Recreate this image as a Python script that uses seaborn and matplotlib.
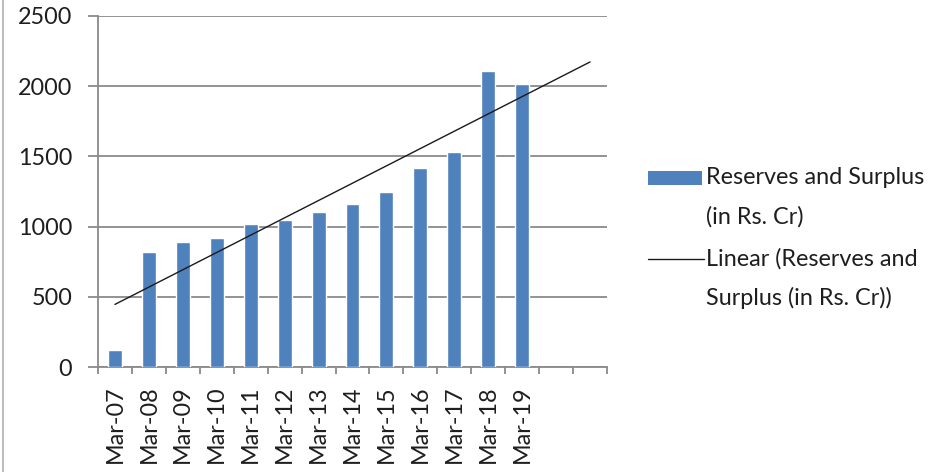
import numpy as np
import pandas as pd
import seaborn as sns
import matplotlib.pyplot as plt
from matplotlib.lines import Line2D
from matplotlib.patches import Rectangle

# Reserves and Surplus (in Rs. Cr), year ending March
periods = ["Mar-07", "Mar-08", "Mar-09", "Mar-10", "Mar-11", "Mar-12", "Mar-13",
           "Mar-14", "Mar-15", "Mar-16", "Mar-17", "Mar-18", "Mar-19"]
reserves = [121, 821, 890, 919, 1021, 1050, 1107, 1164, 1248, 1419, 1533, 2105, 2019]
forecast_periods = 2  # trendline projected two periods ahead
yticks = [0, 500, 1000, 1500, 2000, 2500]

bar_label = "Reserves and Surplus\n(in Rs. Cr)"
trend_label = "Linear (Reserves and\nSurplus (in Rs. Cr))"

BLUE = "#4F81BD"
GRID = "#8a8a8a"
TEXT = "#1e1e1e"
FS = 16.8

sns.set_theme(style="white")
plt.rcParams["font.family"] = ["Lato", "DejaVu Sans"]

df = pd.DataFrame({"period": periods, "value": reserves})

fig = plt.figure(figsize=(9.35, 4.72), dpi=100)
ax = fig.add_axes([98 / 935, 1 - 367 / 472, (607 - 98) / 935, (367 - 16) / 472])

sns.barplot(data=df, x="period", y="value", color=BLUE, saturation=1,
            width=0.41, ax=ax, zorder=3)

# least-squares trendline, extended forward
idx = np.arange(len(reserves))
slope, intercept = np.polyfit(idx, reserves, 1)
tx = np.array([0, len(reserves) - 1 + forecast_periods])
ax.plot(tx, slope * tx + intercept, color="#1a1a1a", lw=1.0, zorder=4)

n_slots = len(reserves) + forecast_periods
ax.set_xlim(-0.5, n_slots - 0.5)
ax.set_ylim(0, 2500)
ax.set_yticks(yticks)
ax.set_yticklabels([str(v) for v in yticks], fontsize=FS, color=TEXT)
ax.yaxis.grid(True, color=GRID, lw=1.3, zorder=0)
ax.set_axisbelow(True)

ax.set_xticks(idx)
ax.set_xticklabels(periods, rotation=90, fontsize=FS, color=TEXT)
ax.set_xticks(np.arange(n_slots + 1) - 0.5, minor=True)
ax.tick_params(axis="x", which="major", length=0, pad=13)
ax.tick_params(axis="x", which="minor", length=5, width=1.3, color=GRID, direction="out", bottom=True)
ax.tick_params(axis="y", which="major", length=7.5, width=1.3, color=GRID, direction="out", left=True, pad=11)

ax.set_xlabel("")
ax.set_ylabel("")
for side in ["top", "right"]:
    ax.spines[side].set_visible(False)
for side in ["left", "bottom"]:
    ax.spines[side].set_color(GRID)
    ax.spines[side].set_linewidth(1.3)

# legend to the right of the plot
W, H = 935, 472
def fx(px):
    return px / W
def fy(py):
    return 1 - py / H

fig.add_artist(Rectangle((fx(648), fy(185)), fx(702) - fx(648), fy(171) - fy(185),
                         transform=fig.transFigure, color=BLUE, lw=0))
fig.add_artist(Line2D([fx(648), fx(704)], [fy(259), fy(259)],
                      transform=fig.transFigure, color="#1a1a1a", lw=1.0))
b1, b2 = bar_label.split("\n")
t1, t2 = trend_label.split("\n")
for txt, py in [(b1, 178), (b2, 217), (t1, 259), (t2, 298)]:
    fig.text(fx(706), fy(py), txt, fontsize=FS, color=TEXT, va="center", ha="left")

# chart frame edge on the left
fig.add_artist(Line2D([fx(3), fx(3)], [0, 1], transform=fig.transFigure, color="#b0b0b0", lw=1.2))

fig.savefig("out.png", dpi=100, facecolor="white")
